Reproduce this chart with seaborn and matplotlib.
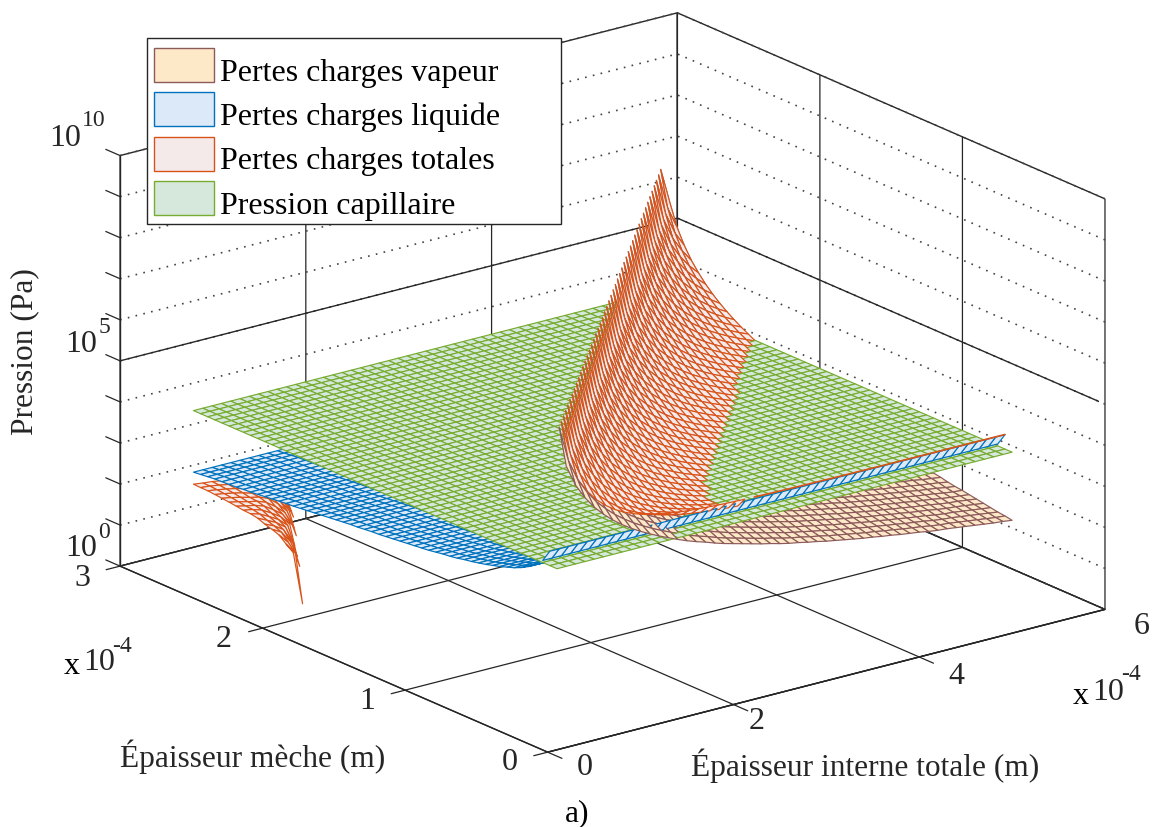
import numpy as np
import matplotlib
matplotlib.use("Agg")
import matplotlib.pyplot as plt
import seaborn as sns
from matplotlib.patches import Patch, Rectangle
from mpl_toolkits.mplot3d.art3d import Poly3DCollection

# Mesh of the reference, in units of 1e-4 m
total_thickness = np.arange(1, 51) * 0.1
wick_thickness = np.arange(0, 52) * 0.05

# log10(Pa)
# capillary plane is flat
capillary_level = 4.41
# liquid loss per wick row, first row (zero thickness) has no value
liquid_rows = [np.nan,
    4.76, 4.46, 4.28, 4.16, 4.06, 3.98, 3.92, 3.86, 3.81, 3.76,
    3.72, 3.68, 3.65, 3.61, 3.58, 3.56, 3.53, 3.50, 3.48, 3.46,
    3.44, 3.42, 3.40, 3.38, 3.36, 3.35, 3.33, 3.31, 3.30, 3.28,
    3.26, 3.24, 3.22, 3.20, 3.18, 3.16, 3.14, 3.13, 3.11, 3.09,
    3.07, 3.05, 3.03, 3.02, 3.00, 2.99, 2.98, 2.97, 2.95, 2.93, 2.91]
# vapour loss per vapour gap step (total - 2*wick, steps of 10 microns)
vapour_gap = [
    7.73, 6.85, 6.33, 5.97, 5.68, 5.45, 5.25, 5.08, 4.93, 4.80,
    4.68, 4.57, 4.47, 4.37, 4.28, 4.20, 4.13, 4.05, 3.98, 3.92,
    3.86, 3.80, 3.74, 3.69, 3.63, 3.58, 3.54, 3.49, 3.45, 3.40,
    3.36, 3.32, 3.28, 3.24, 3.21, 3.17, 3.14, 3.10, 3.07, 3.04,
    3.00, 2.97, 2.95, 2.92, 2.89, 2.86, 2.83, 2.80, 2.78, 2.75]
# the small orange patch at the back, wick rows 34 to 51 only
patch_first_row = 34
patch_liquid = [3.079, 3.066, 3.054, 3.042, 3.030, 3.019, 3.008, 2.997, 2.987,
                2.977, 2.967, 2.957, 2.947, 2.938, 2.929, 2.920, 2.911, 2.9002]
patch_vapour_drop = 0.17

x_ticks = [0, 2, 4, 6]
y_ticks = [0, 1, 2, 3]
z_decades = list(range(0, 11))
z_major = [0, 5, 10]

names = ["Pertes charges vapeur", "Pertes charges liquide",
         "Pertes charges totales", "Pression capillaire"]
face_colors = ["#FDE8C8", "#DCE9F8", "#F5EAEA", "#D6E8DC"]
edge_colors = sns.color_palette(["#8C5A5A", "#0072BD", "#D95319", "#77AC30"])

sns.set_theme(style="white")
plt.rcParams["font.family"] = ["Liberation Serif", "DejaVu Sans"]

# build the four surfaces from the read rows
nx, ny = len(total_thickness), len(wick_thickness)
X, Y = np.meshgrid(total_thickness, wick_thickness)
steps = np.arange(nx)[None, :] + 1 - np.arange(ny)[:, None]
vap = np.array(vapour_gap)
liq = np.array(liquid_rows)[:, None] * np.ones((ny, nx))

z_vap = np.full((ny, nx), np.nan)
z_tot = np.full((ny, nx), np.nan)
pos = steps > 0
z_vap[pos] = vap[steps[pos] - 1]
z_tot[pos] = np.log10(10 ** vap[steps[pos] - 1] + 10 ** liq[pos])
# total nearly on top of the liquid sheet: the reference shows the blue there
hidden = z_tot - liq < 0.05
edge_row = np.where(hidden[1], z_tot[1], np.nan)
z_tot[hidden] = np.nan
# negative gap: the vapour term subtracts, only kept while the result stays positive
for k, level in enumerate(patch_liquid):
    j = patch_first_row + k
    for i in range(nx):
        m = steps[j, i]
        if m < 0:
            rest = 10 ** level - 10 ** (vap[-m - 1] - patch_vapour_drop)
            if rest > 0:
                z_tot[j, i] = np.log10(rest)
z_cap = np.full((ny, nx), capillary_level)


def quads(Z):
    corners = np.stack([
        np.stack([X[:-1, :-1], Y[:-1, :-1], Z[:-1, :-1]], -1),
        np.stack([X[:-1, 1:], Y[:-1, 1:], Z[:-1, 1:]], -1),
        np.stack([X[1:, 1:], Y[1:, 1:], Z[1:, 1:]], -1),
        np.stack([X[1:, :-1], Y[1:, :-1], Z[1:, :-1]], -1)], 2)
    corners = corners.reshape(-1, 4, 3)
    return corners[np.isfinite(corners).all(axis=(1, 2))]


fig = plt.figure(figsize=(11.57, 8.28), dpi=100, facecolor="white")
ax = fig.add_axes([99 / 1157, -69 / 828, 1000 / 1157, 1000 / 828],
                  projection="3d", proj_type="ortho", computed_zorder=False)
ax.view_init(elev=19.5, azim=-127.5)
ax.set_box_aspect((1, 1, 0.62), zoom=1.053)
ax.set_xlim(0, 6, view_margin=0)
ax.set_ylim(0, 3, view_margin=0)
ax.set_zlim(0, 10, view_margin=0)
ax.patch.set_alpha(0)

polys, faces, edges = [], [], []
for Z, fc, ec in zip([z_vap, liq, z_tot, z_cap], face_colors, edge_colors):
    q = quads(Z)
    polys.append(q)
    faces += [fc] * len(q)
    edges += [ec] * len(q)
mesh = Poly3DCollection(np.concatenate(polys), facecolors=faces, edgecolors=edges,
                        linewidths=0.85, zsort="average", zorder=3)
ax.add_collection3d(mesh, autolim=False)
ax.plot(X[1], Y[1], edge_row, color=edge_colors[2], lw=1.2, zorder=4)

# axes, MATLAB style box
dark = "#262626"
ax.set_xticks(x_ticks)
ax.set_yticks(y_ticks)
ax.set_zticks(z_decades)
ax.set_xticklabels([""] * len(x_ticks))
ax.set_yticklabels([""] * len(y_ticks))
ax.set_zticklabels([""] * len(z_decades))
ax.grid(True)
for axis in [ax.xaxis, ax.yaxis, ax.zaxis]:
    axis.set_pane_color((1, 1, 1, 1))
    axis.pane.set_edgecolor(dark)
    axis.pane.set_linewidth(1.0)
    axis.line.set_color(dark)
    axis.line.set_linewidth(1.0)
    axis._axinfo["grid"].update(color=dark, linewidth=0.9, linestyle="-")
    axis._axinfo["tick"].update(inward_factor=0.0, outward_factor=0.0)
ax.zaxis._axinfo["grid"].update(color="#444444", linewidth=1.2, linestyle=(0, (1, 3.8)))
ax.plot([0, 6, 6], [3, 3, 0], [5, 5, 5], color=dark, lw=1.0, zorder=1)
# tick stubs
for t in x_ticks:
    ax.plot([t, t], [0, -0.1], [0, 0], color=dark, lw=0.9, zorder=1)
for t in y_ticks:
    ax.plot([0, -0.15], [t, t], [0, 0], color=dark, lw=0.9, zorder=1)
for d in z_decades:
    ax.plot([0, 0], [3, 3.1], [d, d], color=dark, lw=0.9, zorder=1)


def label(px, py, s, size=22.6, **kw):
    kw.setdefault("ha", "center")
    kw.setdefault("va", "center")
    fig.text(px / 1157, 1 - py / 828, s, fontsize=size, color=kw.pop("color", dark), **kw)


label(25, 352, "Pression (Pa)", rotation=90)
label(253, 757, "Épaisseur mèche (m)")
label(865, 766, "Épaisseur interne totale (m)")
label(577, 814, "a)", color="black")

# tick labels
for t, p in zip(x_ticks, [(585, 768), (757, 722), (956, 677), (1142, 627)]):
    label(p[0], p[1], str(t), size=23)
for t, p in zip(y_ticks, [(510, 763), (367, 702), (224, 640), (82, 579)]):
    label(p[0], p[1], str(t), size=23)
for d, p, q in zip(z_major, [(81, 549), (81, 345), (65, 138)], [(104, 533), (104, 328), (94, 121)]):
    label(p[0], p[1], "10", size=23)
    label(q[0], q[1], str(d), size=17)

# multipliers
label(72, 667, "x", size=23, color="black")
label(99, 663, "10", size=23)
label(122, 646, "-4", size=17)
label(1081, 697, "x", size=23, color="black")
label(1108, 692, "10", size=23)
label(1131, 675, "-4", size=17)

# legend frame is wider than its content in the reference
frame = Rectangle((147 / 1157, 1 - 225 / 828), 414 / 1157, 186 / 828, transform=fig.transFigure,
                  facecolor="white", edgecolor=dark, linewidth=1.0, zorder=4)
fig.add_artist(frame)
handles = [Patch(facecolor=f, edgecolor=e, linewidth=1.0)
           for f, e in zip(face_colors, edge_colors)]
leg = fig.legend(handles, names, loc="upper left",
                 bbox_to_anchor=(145.5 / 1157, 1 - 40 / 828), bbox_transform=fig.transFigure,
                 fontsize=23, frameon=False, borderaxespad=0, borderpad=0.28, handlelength=1.87,
                 handleheight=1.26, labelspacing=0.3, handletextpad=0.19)
leg.set_zorder(5)
for t in leg.get_texts():
    t.set_color("black")
    t.set_position((0, -4))

fig.savefig("out.png", dpi=100)
